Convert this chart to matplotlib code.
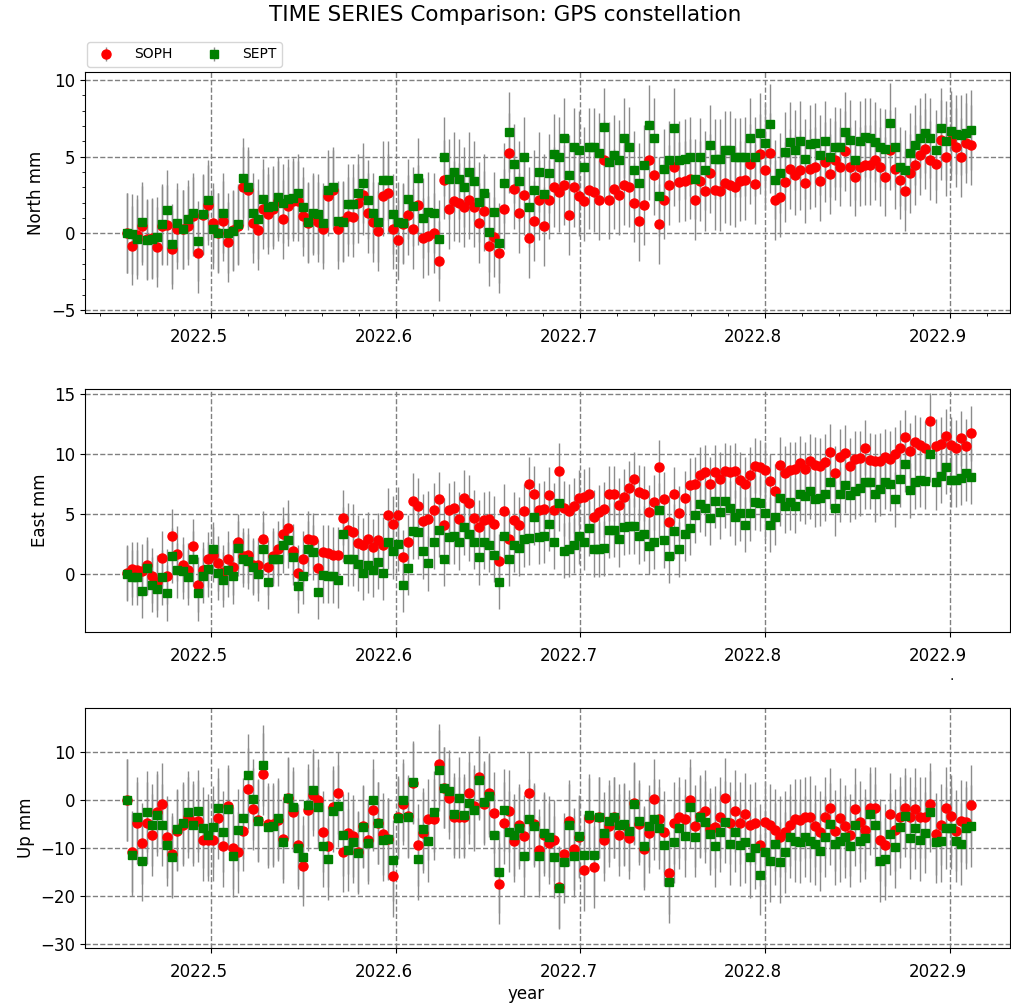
import numpy as np
import matplotlib
matplotlib.use("Agg")
import matplotlib.pyplot as plt
from matplotlib.ticker import MultipleLocator
from matplotlib.transforms import ScaledTranslation

# Daily solutions, first and last epoch in decimal years
T_FIRST = 2022.4547
T_LAST = 2022.9113

stations = ["SOPH", "SEPT"]

north_soph = [
    0.0, -0.8, -0.1, 0.5, -0.35, -0.3, -0.9, 0.5, 0.55, -1.05,
    0.3, 0.25, 0.5, 1.1, -1.3, 1.2, 1.85, 0.65, 0.05, 0.8,
    -0.55, 0.2, 0.5, 3.05, 2.8, 0.65, 0.2, 1.6, 1.25, 1.6,
    2.1, 0.9, 1.75, 2.1, 2.1, 1.1, 0.65, 1.2, 0.75, 0.3,
    2.4, 2.85, 0.3, 0.8, 1.1, 1.05, 1.95, 2.5, 1.3, 0.75,
    0.15, 2.4, 2.6,
    0.25, -0.45, 0.6, 1.2, 0.3, 1.85, -0.3, -0.15, 0.0, -1.8,
    3.5, 1.6, 2.1, 2.0, 1.7, 2.2, 1.7, 0.65, 1.45, -0.85,
    -0.25, -1.3, 1.6, 5.25, 2.9, 1.3, 2.5, -0.3, 0.8, 2.15,
    0.45, 2.2, 3.0, 2.7, 3.15, 1.2, 3.0, 2.4, 2.1, 2.85,
    2.7, 2.15, 4.8, 2.2, 2.9, 2.5, 3.15, 3.0, 2.0, 0.8,
    1.85, 4.8, 3.8, 0.6, 2.2, 3.15, 4.35, 3.35, 3.4, 3.55,
    2.15, 3.4, 2.75, 3.9, 2.8, 2.75, 3.25, 3.15, 3.0, 3.4,
    3.45, 4.5, 3.2, 5.15, 4.1, 5.25, 2.15, 2.35, 3.35, 4.2,
    3.8, 4.15, 3.3, 4.2, 4.3, 3.4, 4.65, 3.85, 4.75, 4.35,
    5.35, 4.35, 3.7, 4.35, 4.45, 4.45, 4.8, 4.35, 3.7, 5.45,
    4.2, 3.5, 2.75, 3.9, 4.45, 5.1, 5.5, 4.75, 4.55, 6.1,
    5.0, 6.1, 5.6, 4.95, 5.9, 5.75,
]
north_sept = [
    0.0, -0.05, -0.35, 0.75, -0.45, -0.35, -0.25, 0.6, 1.55, -0.7,
    0.7, 0.25, 0.9, 1.3, -0.5, 1.25, 2.15, 0.3, 0.0, 1.3,
    0.0, 0.15, 0.6, 3.6, 3.0, 1.3, 0.95, 2.25, 1.7, 1.8,
    2.35, 1.95, 2.25, 2.3, 2.6, 1.7, 0.75, 1.3, 1.25, 0.65,
    2.8, 3.05, 0.8, 0.75, 1.9, 1.9, 2.6, 3.3, 2.2, 1.3,
    0.75, 3.45, 3.45,
    1.25, 0.75, 0.65, 2.25, 1.75, 3.6, 1.0, 1.4, 1.3, -0.4,
    5.0, 3.55, 4.0, 3.55, 3.0, 4.0, 3.4, 2.05, 2.6, 0.1,
    1.4, -0.65, 3.3, 6.6, 4.55, 3.4, 5.0, 1.7, 2.85, 4.0,
    2.55, 3.9, 5.15, 5.0, 6.2, 3.8, 5.6, 5.4, 4.35, 5.6,
    5.6, 5.25, 6.9, 4.65, 5.1, 4.8, 6.2, 5.65, 4.1, 3.3,
    4.45, 7.05, 6.2, 2.4, 4.2, 4.75, 6.85, 4.75, 4.85, 5.0,
    3.55, 4.95, 4.1, 5.75, 4.85, 4.85, 5.4, 5.4, 4.95, 4.95,
    5.0, 6.2, 5.0, 6.55, 5.9, 7.15, 3.5, 3.95, 5.3, 5.95,
    5.45, 6.0, 4.85, 5.8, 5.9, 5.1, 6.0, 4.95, 5.65, 5.6,
    6.6, 6.1, 4.8, 6.0, 6.25, 6.2, 5.95, 5.6, 5.5, 7.2,
    5.65, 4.35, 4.15, 5.25, 5.75, 6.2, 6.55, 6.2, 5.45, 6.85,
    6.05, 6.65, 6.45, 6.4, 6.55, 6.75,
]

east_soph = [
    0.1, 0.4, 0.35, 0.2, 0.75, -0.15, -0.7, 1.3, -0.2, 3.15,
    1.7, 0.75, 0.3, 2.3, -0.9, 0.35, 1.2, 1.6, 0.9, 0.15,
    1.25, 0.55, 2.7, 1.5, 1.55, 0.7, 0.7, 2.95, 0.55, 1.5,
    2.1, 3.3, 3.85, 1.9, 0.1, 1.25, 2.95, 2.8, 0.5, 1.8,
    1.75, 1.6, 1.6, 4.7, 3.65, 3.5, 2.6, 2.4, 2.9, 2.25,
    2.8, 2.45, 4.9,
    4.2, 4.95, 1.4, 2.65, 6.1, 5.7, 4.4, 4.6, 5.3, 6.25,
    4.05, 5.3, 5.5, 4.55, 6.35, 5.95, 4.7, 3.9, 4.5, 4.6,
    4.2, 1.05, 5.25, 2.95, 4.5, 4.1, 5.25, 7.5, 6.7, 5.3,
    5.45, 6.6, 5.3, 8.6, 5.5, 5.25, 5.7, 6.35, 6.45, 6.65,
    4.75, 5.15, 5.4, 6.7, 6.7, 5.75, 6.45, 7.15, 7.9, 6.8,
    6.7, 5.15, 6.0, 8.9, 6.25, 4.3, 6.65, 5.05, 6.3, 7.4,
    7.5, 8.3, 8.5, 7.5, 8.5, 7.9, 8.6, 8.5, 8.6, 7.85,
    7.5, 8.3, 9.05, 8.9, 8.7, 7.75, 6.9, 9.1, 8.4, 8.7,
    8.75, 9.25, 8.75, 9.4, 9.1, 9.05, 9.35, 10.2, 8.4, 9.8,
    10.1, 9.05, 9.6, 9.65, 10.55, 9.5, 9.4, 9.45, 9.8, 9.6,
    10.0, 10.55, 11.4, 10.3, 11.0, 10.8, 10.5, 12.8, 10.65, 10.85,
    11.5, 10.8, 10.55, 11.35, 10.65, 11.75,
]
east_sept = [
    0.0, -0.3, -0.3, -1.4, 0.5, -0.9, -1.3, -0.3, -1.6, 1.5,
    0.3, 0.2, -0.3, 1.25, -1.6, -0.15, 0.4, 2.05, 0.1, -0.5,
    0.35, -0.2, 2.15, 1.2, 1.05, 0.55, 0.0, 2.05, -0.65, 1.25,
    1.25, 2.4, 2.8, 1.4, -1.0, -0.2, 2.1, 1.8, -1.5, -0.1,
    -0.15, -0.15, -0.55, 3.3, 1.25, 1.25, 0.85, 0.1, 0.7, 0.35,
    1.0, 0.1, 2.7,
    1.9, 2.5, -0.9, 0.5, 3.55, 3.5, 1.9, 0.9, 2.7, 3.7,
    1.25, 3.1, 3.15, 2.65, 3.9, 3.35, 2.7, 1.4, 2.7, 2.45,
    1.6, -0.65, 3.2, 1.25, 2.45, 2.15, 2.9, 3.0, 4.75, 3.1,
    3.2, 4.2, 2.7, 5.9, 1.95, 2.05, 2.4, 3.15, 2.65, 3.8,
    2.05, 2.05, 2.15, 3.65, 3.7, 2.9, 3.9, 4.0, 4.0, 3.15,
    3.35, 2.3, 2.7, 5.3, 2.8, 1.5, 3.55, 2.05, 3.35, 3.85,
    4.9, 5.8, 5.5, 4.7, 6.1, 5.2, 6.1, 5.5, 4.75, 5.05,
    4.1, 5.05, 6.0, 5.9, 5.1, 4.1, 4.75, 6.3, 5.7, 6.0,
    5.7, 6.7, 6.5, 6.9, 6.25, 6.3, 6.7, 7.7, 5.5, 6.65,
    7.4, 6.6, 6.9, 7.15, 7.7, 7.7, 6.65, 7.1, 7.7, 7.55,
    6.25, 7.9, 9.15, 7.0, 7.7, 7.85, 7.75, 10.0, 7.65, 8.2,
    8.95, 7.85, 7.85, 8.05, 8.4, 8.1,
]

up_soph = [
    0.0, -10.7, -4.8, -9.0, -4.7, -7.25, -2.4, -0.7, -7.7, -11.2,
    -6.35, -5.2, -3.6, -4.5, -4.3, -8.4, -8.3, -8.4, -3.8, -9.5,
    -1.25, -10.0, -10.9, -6.35, 2.4, -1.9, -4.15, 5.4, -5.0, -5.0,
    -4.2, -8.0, 0.35, -2.4, -9.3, -13.65, -2.05, 1.05, 0.0, -6.55,
    -9.65, -1.4, 1.5, -10.7, -6.9, -7.45, -10.7, -5.4, -8.4, -2.05,
    -4.7, -7.0, -8.0,
    -15.9, -3.5, -0.85, -3.3, 3.5, -9.3, -6.75, -4.0, -4.0, 7.45,
    2.6, 0.35, -3.6, -3.6, -3.6, 1.5, -1.25, 4.8, -0.85, 1.4,
    -2.6, -17.4, -4.8, -2.2, -8.6, -5.2, -7.45, 1.5, -5.0, -10.35,
    -7.25, -9.0, -8.4, -18.1, -11.2, -4.3, -10.2, -7.7, -14.5, -3.8,
    -13.9, -3.6, -8.4, -5.4, -3.6, -7.25, -5.2, -7.9, -0.55, -5.0,
    -10.2, -6.75, 0.15, -4.0, -6.55, -15.2, -4.7, -3.6, -4.0, 0.0,
    -5.4, -3.3, -2.2, -6.0, -5.65, -3.6, 0.35, -4.8, -2.2, -4.8,
    -2.9, -5.1, -4.8, -9.3, -4.6, -5.2, -6.2, -7.6, -6.55, -5.2,
    -4.0, -4.1, -3.6, -3.5, -5.4, -6.55, -3.6, -1.7, -6.35, -3.8,
    -5.4, -7.25, -1.9, -4.5, -6.2, -1.55, -1.55, -8.3, -9.3, -2.9,
    -6.2, -3.6, -1.7, -3.6, -1.9, -3.6, -3.6, -0.75, -7.0, -5.1,
    -1.55, -3.3, -6.35, -4.3, -4.5, -1.1,
]
up_sept = [
    0.0, -11.4, -3.6, -12.6, -2.4, -5.2, -3.1, -5.2, -9.3, -11.9,
    -6.1, -4.7, -2.4, -5.2, -2.2, -5.7, -7.2, -5.5, -1.7, -6.55,
    -1.9, -11.6, -6.2, -3.8, 5.2, 0.15, -4.3, 7.25, -5.65, -5.4,
    -3.8, -8.8, 0.55, -1.5, -10.0, -11.9, -1.05, 2.2, -1.5, -9.5,
    -12.3, -2.2, -1.25, -7.25, -10.35, -8.8, -11.0, -5.65, -9.0, 0.0,
    -4.7, -8.4, -8.1,
    -12.55, -3.8, 0.0, -3.6, 3.8, -12.3, -6.05, -8.6, -2.4, 6.2,
    2.6, 1.95, -2.9, 0.55, -3.1, -0.55, -2.05, 4.3, -0.35, 0.85,
    -7.25, -15.0, -2.05, -6.55, -7.25, -5.85, -11.6, -4.0, -5.4, -11.7,
    -6.75, -7.6, -11.9, -18.3, -12.95, -5.2, -11.7, -7.45, -11.4, -3.1,
    -11.4, -3.6, -6.75, -4.3, -3.6, -5.2, -5.0, -6.35, -0.85, -4.3,
    -9.65, -5.4, -4.0, -5.85, -9.3, -17.1, -8.8, -5.85, -7.45, -1.5,
    -7.6, -3.6, -4.5, -7.0, -9.5, -6.55, -4.5, -9.1, -6.55, -9.3,
    -8.8, -11.9, -10.0, -15.5, -10.7, -12.75, -9.1, -12.95, -10.9, -7.7,
    -8.6, -8.8, -7.6, -8.6, -9.1, -10.5, -7.6, -5.0, -9.1, -8.6,
    -7.7, -9.65, -5.2, -8.6, -7.9, -2.9, -5.2, -12.75, -12.3, -7.0,
    -9.8, -5.65, -3.3, -7.9, -5.85, -8.3, -6.75, -2.4, -8.8, -8.6,
    -5.85, -5.85, -8.6, -9.1, -5.85, -5.4,
]

# Formal 1-sigma uncertainties (mm) per component
sigma = {"North": 2.6, "East": 2.3, "Up": 8.5}

components = [
    ("North", north_soph, north_sept, (-5.2, 10.52), [-5, 0, 5, 10]),
    ("East", east_soph, east_sept, (-4.86, 15.45), [0, 5, 10, 15]),
    ("Up", up_soph, up_sept, (-30.8, 19.2), [-30, -20, -10, 0, 10]),
]
year_ticks = [2022.5, 2022.6, 2022.7, 2022.8, 2022.9]
year_labels = ["2022.5", "2022.6", "2022.7", "2022.8", "2022.9"]

W, H = 1011, 1005
fig = plt.figure(figsize=(W / 100, H / 100), dpi=100)

# axes boxes in pixels: (top, bottom)
boxes = [(72, 313), (389, 632), (708, 948)]
left_px, right_px = 85, 1010

styles = [
    dict(fmt="o", color="red", ms=6.5, label=stations[0]),
    dict(fmt="s", color="green", ms=6.0, label=stations[1]),
]

axes = []
for k, (name, soph, sept, ylim, yticks) in enumerate(components):
    top, bot = boxes[k]
    ax = fig.add_axes([left_px / W, 1 - bot / H, (right_px - left_px) / W, (bot - top) / H])
    for vals, st in zip((soph, sept), styles):
        v = np.asarray(vals, dtype=float)
        t = np.linspace(T_FIRST, T_LAST, len(v))
        cont = ax.errorbar(t, v, yerr=sigma[name], fmt=st["fmt"], color=st["color"],
                           mec=st["color"], ms=st["ms"], ecolor="#8c8c8c",
                           elinewidth=1.0, label=st["label"], zorder=4)
        for bl in cont[2]:
            bl.set_zorder(2.5)
    ax.set_ylim(*ylim)
    ax.set_yticks(yticks)
    ax.set_xticks(year_ticks)
    ax.set_xticklabels(year_labels)
    ax.set_ylabel(f"{name} mm", fontsize=12)
    ax.tick_params(labelsize=12)
    ax.tick_params(axis="x", which="major", pad=7)
    ax.grid(True, which="major", linestyle="--", color="gray", linewidth=1.0)
    ax.set_axisbelow(True)
    ax.set_xlim(2022.4318, 2022.9326)
    axes.append(ax)

axes[0].xaxis.set_minor_locator(MultipleLocator(0.02))
axes[0].yaxis.set_minor_locator(MultipleLocator(1))
axes[2].set_xlabel("year", fontsize=12)
axes[2].xaxis.set_label_coords((526 - left_px) / (right_px - left_px), -0.155)

axes[0].legend(loc="lower left", bbox_to_anchor=(2 / 925, 1 + 5 / 241), ncol=2,
               fontsize=10, borderaxespad=0.0, columnspacing=2.0,
               handletextpad=1.0)

fig.suptitle("TIME SERIES Comparison: GPS constellation", fontsize=15.5, y=0.995)
fig.text(952 / W, 1 - 680 / H, ".", fontsize=10, ha="center")

# year labels sit slightly left of their ticks
label_shift = ScaledTranslation(-12 / 100, 0, fig.dpi_scale_trans)
for ax in axes:
    for tick in ax.xaxis.get_major_ticks():
        tick.label1.set_transform(tick.label1.get_transform() + label_shift)

fig.savefig("out.png", dpi=100)
